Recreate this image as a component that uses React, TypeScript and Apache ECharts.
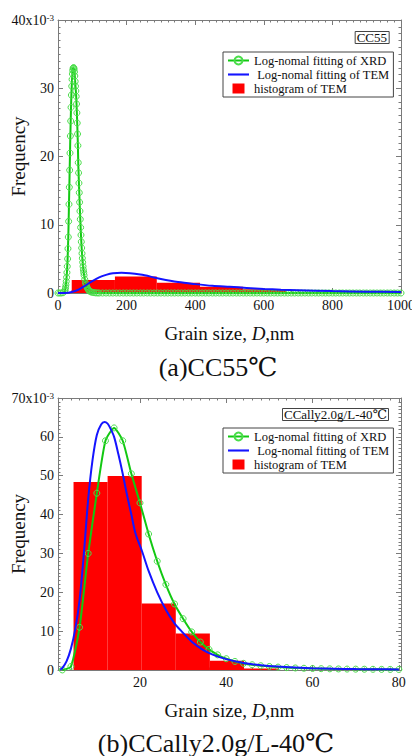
import React, { useEffect, useRef } from 'react';
import * as echarts from 'echarts';

const FONT = '"Liberation Serif", "Times New Roman", "DejaVu Serif", serif';
const GRAY = '#7a7a7a';
const INK = '#111';

const XRD = 'Log-nomal fitting of XRD';
const TEM = 'Log-nomal fitting of TEM';
const HIST = 'histogram of TEM';

// ---------- (a) CC55 : x in nm, y in 10^-3 ----------
const xrdA: [number, number][] = [
  [0, 0], [5, 0], [10, 0], [15, 0.05], [20, 0.3], [21, 0.5], [22, 0.8], [23, 1.2], [24, 1.7], [25, 2.3],
  [26, 3], [27, 3.9], [28, 5], [29, 6.5], [30, 8.2], [31, 10.5], [32, 13], [33, 15.5], [34, 18], [35, 20.5],
  [36, 23], [37, 25.2], [38, 27.2], [39, 29], [40, 30.3], [41, 31.3], [42, 32.1], [43, 32.6], [44, 32.9], [45, 33],
  [46, 33], [47, 32.8], [48, 32.4], [49, 31.8], [50, 31], [51, 30.3], [52, 29.6], [53, 28.8], [54, 27.7], [55, 26.4],
  [56, 24.9], [57, 23.3], [58, 21.6], [59, 19.1], [60, 17.6], [61, 16.1], [62, 14.7], [63, 13.3], [64, 12], [65, 10.8],
  [66, 9.6], [67, 8.5], [68, 7.5], [69, 6.6], [70, 5.8], [71, 5.1], [72, 4.5], [73, 3.9], [74, 3.4], [75, 3],
  [76, 2.6], [78, 2], [80, 1.5], [82, 1.2], [84, 0.9], [86, 0.7], [88, 0.5], [90, 0.38], [93, 0.25], [96, 0.16],
  [100, 0.1], [105, 0.05], [110, 0.02], [115, 0.01], [120, 0], [130, 0], [140, 0], [150, 0], [160, 0], [170, 0],
  [180, 0], [190, 0], [200, 0], [210, 0], [220, 0], [230, 0], [240, 0], [250, 0], [260, 0], [270, 0],
  [280, 0], [290, 0], [300, 0], [310, 0], [320, 0], [330, 0], [340, 0], [350, 0], [360, 0], [370, 0],
  [380, 0], [390, 0], [400, 0], [410, 0], [420, 0], [430, 0], [440, 0], [450, 0], [460, 0], [470, 0],
  [480, 0], [490, 0], [500, 0], [510, 0], [520, 0], [530, 0], [540, 0], [550, 0], [560, 0], [570, 0],
  [580, 0], [590, 0], [600, 0], [610, 0], [620, 0], [630, 0], [640, 0], [650, 0], [660, 0], [670, 0],
  [680, 0], [690, 0], [700, 0], [710, 0], [720, 0], [730, 0], [740, 0], [750, 0], [760, 0], [770, 0],
  [780, 0], [790, 0], [800, 0], [810, 0], [820, 0], [830, 0], [840, 0], [850, 0], [860, 0], [870, 0],
  [880, 0], [890, 0], [900, 0], [910, 0], [920, 0], [930, 0], [940, 0], [950, 0], [960, 0], [970, 0],
  [980, 0], [990, 0], [1000, 0],
];

const temA: [number, number][] = [
  [0, 0], [20, 0.01], [40, 0.15], [60, 0.5], [80, 1.1], [100, 1.75], [120, 2.3], [140, 2.65], [160, 2.88],
  [185, 2.95], [210, 2.9], [240, 2.7], [270, 2.4], [300, 2.05], [350, 1.6], [400, 1.3], [450, 1.05],
  [500, 0.9], [550, 0.75], [600, 0.6], [650, 0.48], [700, 0.4], [800, 0.28], [900, 0.2], [1000, 0.14],
];

// [bin start, bin end, height]
const histA: [number, number, number][] = [
  [40, 166, 1.9], [166, 288, 2.4], [288, 414, 1.5], [414, 540, 0.92], [540, 666, 0.55],
];

// ---------- (b) CCally2.0g/L-40℃ ----------
const xrdB: [number, number][] = [
  [2, 0.02], [4, 0.9], [6, 11], [8, 30], [10, 45.5], [12, 59], [14, 62.3], [16, 59], [18, 50.5], [20, 43],
  [22, 35], [24, 28], [26, 22], [28, 17], [30, 13.2], [32, 9.8], [34, 7.2], [36, 5.3], [38, 3.9], [40, 2.9],
  [42, 2.2], [44, 1.7], [46, 1.35], [48, 1.1], [50, 0.9], [52, 0.75], [54, 0.62], [56, 0.52], [58, 0.45], [60, 0.39],
  [62, 0.34], [64, 0.3], [66, 0.27], [68, 0.24], [70, 0.22], [72, 0.2], [74, 0.18], [76, 0.16], [78, 0.15], [80, 0.14],
];

const temB: [number, number][] = [
  [1.5, 0.1], [2, 0.5], [3, 2.3], [4, 5.5], [5, 10.5], [6, 18], [7, 30], [8, 44], [9, 54], [10, 60.5],
  [11, 63.2], [11.8, 63.8], [12.5, 63.4], [13, 62.5], [14, 60], [15, 55.5], [16, 50.5], [17, 45], [18, 40],
  [19, 35], [20.5, 30.5], [22, 25.5], [24, 20], [26, 15.5], [28, 12], [29.6, 10], [32, 7.3], [34.6, 5.2],
  [37, 3.9], [40, 2.8], [44, 1.8], [48, 1.25], [52, 0.9], [56, 0.65], [60, 0.45], [65, 0.33], [70, 0.25],
  [75, 0.2], [80, 0.15],
];

const histB: [number, number, number][] = [
  [4.6, 12.5, 48.4], [12.5, 20.4, 49.9], [20.4, 28.3, 17.1], [28.3, 36.2, 9.4], [36.2, 44.1, 2.4], [44.1, 52, 0.4],
];

const xMajorB = [20, 40, 60, 80];
const xMinorB = [2, 4, 6, 8, 10, 12, 14, 16, 18, 22, 24, 26, 28, 30, 32, 34, 36, 38, 42, 44, 46, 48, 50, 52, 54, 56, 58,
  62, 64, 66, 68, 70, 72, 74, 76, 78];

const capA = '(a)CC55℃';
const capB = '(b)CCally2.0g/L-40℃';
const tagA = 'CC55';
const tagB = 'CCally2.0g/L-40℃';

const lineStyle = { color: GRAY, width: 1 };

const nameStyle = {
  fontFamily: FONT, fontSize: 19, color: INK,
  rich: {
    n: { fontFamily: FONT, fontSize: 19, color: INK },
    i: { fontFamily: FONT, fontSize: 19, fontStyle: 'italic', color: INK },
  },
};

function yLabel(top: number) {
  return {
    show: true,
    fontFamily: FONT, fontSize: 14, color: INK, margin: 4,
    formatter: (v: number) => (v === top ? `{n|${top}x10}{s|-3}` : `${v}`),
    rich: {
      n: { fontFamily: FONT, fontSize: 14, color: INK, lineHeight: 14 },
      s: { fontFamily: FONT, fontSize: 9, color: INK, lineHeight: 14, verticalAlign: 'top', padding: [0, 0, 7, 0] },
    },
  };
}

function valAxis(gridIndex: number, position: string, min: number, max: number, interval: number, extra: any = {}) {
  return {
    type: 'value', gridIndex, position, min, max, interval,
    axisLine: { show: true, onZero: false, lineStyle },
    axisTick: { show: true, inside: true, length: 5, lineStyle },
    minorTick: { show: true, splitNumber: 10, length: 2.5, lineStyle },
    splitLine: { show: false },
    minorSplitLine: { show: false },
    axisLabel: { show: false },
    ...extra,
  };
}

function histRender(params: any, api: any) {
  const x0 = api.value(0);
  const x1 = api.value(1);
  const h = api.value(2);
  const p0 = api.coord([x0, h]);
  const p1 = api.coord([x1, 0]);
  return {
    type: 'rect',
    shape: { x: p0[0], y: p0[1], width: p1[0] - p0[0], height: p1[1] - p0[1] },
    style: { fill: '#ff0000' },
  };
}

function seriesSet(xi: number, yi: number, hist: any, xrd: any, tem: any, sym: number) {
  return [
    {
      type: 'custom', name: HIST, xAxisIndex: xi, yAxisIndex: yi, renderItem: histRender,
      encode: { x: [0, 1], y: 2 }, data: hist, itemStyle: { color: '#ff0000' }, z: 1,
    },
    {
      type: 'line', name: XRD, xAxisIndex: xi, yAxisIndex: yi, data: xrd, smooth: 0.2,
      symbol: 'circle', symbolSize: sym, showSymbol: true, showAllSymbol: true,
      lineStyle: { color: '#12c812', width: 2 },
      itemStyle: { color: 'rgba(0,0,0,0)', borderColor: '#4ade4a', borderWidth: 1 },
      z: 2,
    },
    {
      type: 'line', name: TEM, xAxisIndex: xi, yAxisIndex: yi, data: tem, smooth: 0.3,
      symbol: 'none', lineStyle: { color: '#1414ff', width: 2 }, itemStyle: { color: '#1414ff' }, z: 3,
    },
  ];
}

function legendAt(top: number) {
  return {
    left: 223, top, orient: 'vertical',
    data: [
      { name: XRD },
      { name: TEM, icon: 'path://M0,0 L20,0 L20,2 L0,2 Z', itemStyle: { color: '#1414ff' } },
      { name: HIST, icon: 'path://M0,0 L12,0 L12,10 L0,10 Z' },
    ],
    symbolKeepAspect: true,
    formatter: (n: string) => (n === TEM ? ' ' + n : n),
    backgroundColor: '#fff', borderColor: '#444', borderWidth: 1, borderRadius: 0,
    padding: [2, 4, 2, 4], itemGap: 1, itemWidth: 21, itemHeight: 10,
    selectedMode: false,
    textStyle: { fontFamily: FONT, fontSize: 12.5, color: INK, lineHeight: 13 },
  };
}

function tagAt(text: string, top: number) {
  return {
    text, right: 23, top, padding: [0, 2, 0, 2],
    borderColor: '#444', borderWidth: 1, backgroundColor: '#fff',
    textStyle: { fontFamily: FONT, fontSize: 13, fontWeight: 'normal', color: INK, lineHeight: 13 },
  };
}

const xLabelStyle = {
  show: true, fontFamily: FONT, fontSize: 14, color: INK, margin: 5,
  formatter: (v: number) => `${v}`,
};

const yName = {
  name: 'Frequency', nameLocation: 'middle', nameGap: 30, nameRotate: 90, nameMoveOverlap: false,
  nameTextStyle: { fontFamily: FONT, fontSize: 19, color: INK },
};

const xName = {
  name: '{n|Grain size, }{i|D}{n|,nm}', nameLocation: 'middle', nameGap: 31, nameMoveOverlap: false,
  nameTextStyle: nameStyle,
};

const option: any = {
  animation: false,
  backgroundColor: '#fff',
  title: [tagAt(tagA, 31), tagAt(tagB, 408)],
  legend: [legendAt(52), legendAt(428)],
  grid: [
    { left: 58, top: 20, width: 343, height: 273, containLabel: false, outerBoundsMode: 'none' },
    { left: 58, top: 398, width: 343, height: 272, containLabel: false, outerBoundsMode: 'none' },
    { left: 58, top: 398, width: 343, height: 272, containLabel: false, outerBoundsMode: 'none' },
  ],
  xAxis: [
    valAxis(0, 'bottom', 0, 1000, 200, { axisLabel: xLabelStyle, ...xName }),
    valAxis(0, 'top', 0, 1000, 200),
    {
      type: 'value', gridIndex: 1, position: 'bottom', min: 1, max: 80.5,
      axisLine: { show: true, onZero: false, lineStyle },
      axisTick: { show: true, inside: true, length: 5, lineStyle, customValues: xMajorB },
      axisLabel: { ...xLabelStyle, customValues: xMajorB },
      splitLine: { show: false },
      ...xName,
    },
    {
      type: 'value', gridIndex: 1, position: 'top', min: 1, max: 80.5,
      axisLine: { show: true, onZero: false, lineStyle },
      axisTick: { show: true, inside: true, length: 5, lineStyle, customValues: xMajorB },
      axisLabel: { show: false },
      splitLine: { show: false },
    },
    {
      type: 'value', gridIndex: 2, position: 'bottom', min: 1, max: 80.5,
      axisLine: { show: false },
      axisTick: { show: true, inside: true, length: 2.5, lineStyle, customValues: xMinorB },
      axisLabel: { show: false },
      splitLine: { show: false },
    },
    {
      type: 'value', gridIndex: 2, position: 'top', min: 1, max: 80.5,
      axisLine: { show: false },
      axisTick: { show: true, inside: true, length: 2.5, lineStyle, customValues: xMinorB },
      axisLabel: { show: false },
      splitLine: { show: false },
    },
  ],
  yAxis: [
    valAxis(0, 'left', 0, 40, 10, { axisLabel: yLabel(40), ...yName }),
    valAxis(0, 'right', 0, 40, 10),
    valAxis(1, 'left', 0, 70, 10, { axisLabel: yLabel(70), ...yName }),
    valAxis(1, 'right', 0, 70, 10),
    { type: 'value', gridIndex: 2, show: false, min: 0, max: 70 },
  ],
  graphic: [
    {
      type: 'text', x: 218, y: 367,
      style: { text: capA, font: `26px ${FONT}`, fill: INK, textAlign: 'center', textVerticalAlign: 'middle' },
    },
    {
      type: 'text', x: 216, y: 743,
      style: { text: capB, font: `26px ${FONT}`, fill: INK, textAlign: 'center', textVerticalAlign: 'middle' },
    },
  ],
  series: [
    ...seriesSet(0, 0, histA, xrdA, temA, 6),
    ...seriesSet(2, 2, histB, xrdB, temB, 6),
  ],
};

export default function App() {
  const ref = useRef<HTMLDivElement>(null);
  useEffect(() => {
    if (!ref.current) return;
    const chart = echarts.init(ref.current, null, { renderer: 'svg' });
    chart.setOption(option);
    return () => chart.dispose();
  }, []);
  return (
    <div
      ref={ref}
      style={{ position: 'absolute', left: 0, top: 0, width: 412, height: 756, background: '#fff' }}
    />
  );
}
